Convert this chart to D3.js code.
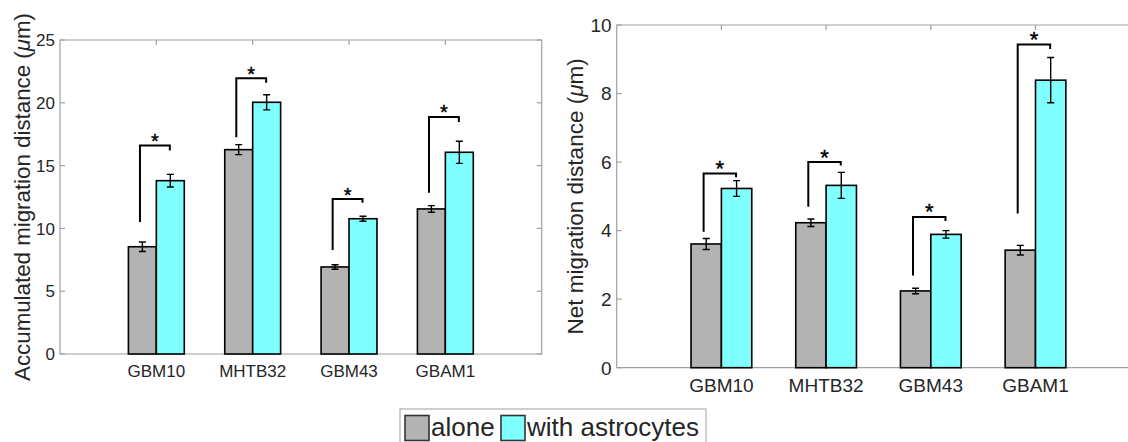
<!DOCTYPE html>
<html>
<head>
<meta charset="utf-8">
<script src="https://cdn.jsdelivr.net/npm/d3@7"></script>
<style>
  html, body { margin: 0; padding: 0; background: #fff; }
  svg { display: block; font-family: "Liberation Sans", Arial, sans-serif; }
</style>
</head>
<body>
<svg id="chart" width="1128" height="442"></svg>
<script>
// ── Data ──────────────────────────────────────────────────────────────────────
const categories = ['GBM10', 'MHTB32', 'GBM43', 'GBAM1'];
const seriesNames = ['alone', 'with astrocytes'];

// accumulated migration distance (µm)
const accAlone      = [8.54, 16.27, 6.93, 11.55];
const accAloneErr   = [0.38, 0.40, 0.18, 0.26];
const accAstro      = [13.80, 20.04, 10.77, 16.06];
const accAstroErr   = [0.50, 0.60, 0.20, 0.88];
const accBracket    = [[10.5, 16.6, 16.2], [17.25, 21.95, 21.6], [8.28, 12.34, 12.05], [12.84, 18.87, 18.47]];
const accTicks      = [0, 5, 10, 15, 20, 25];

// net migration distance (µm)
const netAlone      = [3.61, 4.23, 2.24, 3.43];
const netAloneErr   = [0.16, 0.11, 0.08, 0.14];
const netAstro      = [5.23, 5.32, 3.89, 8.39];
const netAstroErr   = [0.23, 0.38, 0.11, 0.66];
const netBracket    = [[3.97, 5.67, 5.56], [4.70, 6.0, 5.9], [2.69, 4.40, 4.28], [4.5, 9.43, 9.3]];
const netTicks      = [0, 2, 4, 6, 8, 10];

// ── Style ─────────────────────────────────────────────────────────────────────
const GRAY = '#b3b3b3';
const CYAN = '#80ffff';
const AXIS = '#a0a0a0';
const TEXT = '#262626';
const BAR_W = 0.29;

const svg = d3.select('#chart');

function drawPanel(opt) {
  const { left, right, top, bottom, yMax, ticks, alone, aloneErr, astro, astroErr, brackets,
          label, tickFont, labelFont, labelX, xLabelY } = opt;
  const x = d3.scaleLinear().domain([0, 5]).range([left, right]);
  const y = d3.scaleLinear().domain([0, yMax]).range([bottom, top]);
  const g = svg.append('g');

  // box
  g.append('path')
    .attr('d', `M${left},${bottom}V${top}H${right}V${bottom}Z`)
    .attr('fill', 'none').attr('stroke', AXIS).attr('stroke-width', 1.2);

  // inward ticks on all sides
  const tl = 5;
  ticks.forEach(t => {
    g.append('line').attr('x1', left).attr('x2', left + tl).attr('y1', y(t)).attr('y2', y(t))
      .attr('stroke', AXIS).attr('stroke-width', 1.2);
    g.append('line').attr('x1', right).attr('x2', right - tl).attr('y1', y(t)).attr('y2', y(t))
      .attr('stroke', AXIS).attr('stroke-width', 1.2);
    g.append('text').attr('x', left - 5).attr('y', y(t)).attr('dy', '0.36em')
      .attr('text-anchor', 'end').attr('fill', TEXT).attr('font-size', tickFont).text(t);
  });
  categories.forEach((c, i) => {
    const cx = x(i + 1);
    g.append('line').attr('x1', cx).attr('x2', cx).attr('y1', top).attr('y2', top + tl)
      .attr('stroke', AXIS).attr('stroke-width', 1.2);
    g.append('line').attr('x1', cx).attr('x2', cx).attr('y1', bottom).attr('y2', bottom - tl)
      .attr('stroke', AXIS).attr('stroke-width', 1.2);
    g.append('text').attr('x', cx).attr('y', xLabelY).attr('text-anchor', 'middle')
      .attr('fill', TEXT).attr('font-size', tickFont).text(c);
  });

  // bars
  const bars = [];
  categories.forEach((c, i) => {
    bars.push({ x0: i + 1 - BAR_W, v: alone[i], e: aloneErr[i], fill: GRAY });
    bars.push({ x0: i + 1, v: astro[i], e: astroErr[i], fill: CYAN });
  });
  g.selectAll('rect.bar').data(bars).join('rect').attr('class', 'bar')
    .attr('x', d => x(d.x0)).attr('width', d => x(d.x0 + BAR_W) - x(d.x0))
    .attr('y', d => y(d.v)).attr('height', d => y(0) - y(d.v))
    .attr('fill', d => d.fill).attr('stroke', '#000').attr('stroke-width', 1.6);

  // error bars
  const cap = 3.5;
  bars.forEach(d => {
    const cx = x(d.x0 + BAR_W / 2);
    const y1 = y(d.v - d.e), y2 = y(d.v + d.e);
    g.append('path')
      .attr('d', `M${cx},${y1}V${y2}M${cx - cap},${y1}H${cx + cap}M${cx - cap},${y2}H${cx + cap}`)
      .attr('fill', 'none').attr('stroke', '#000').attr('stroke-width', 1.4);
  });

  // significance brackets
  brackets.forEach((b, i) => {
    const xl = x(i + 1 - 0.17), xr = x(i + 1 + 0.14);
    g.append('path')
      .attr('d', `M${xl},${y(b[0])}V${y(b[1])}H${xr}V${y(b[2])}`)
      .attr('fill', 'none').attr('stroke', '#000').attr('stroke-width', 2);
    g.append('text').attr('x', (xl + xr) / 2).attr('y', y(b[1]) + 2.5)
      .attr('text-anchor', 'middle').attr('font-size', tickFont + 3).attr('fill', '#000')
      .attr('stroke', '#000').attr('stroke-width', 0.4).text('*');
  });

  // y label
  const lt = g.append('text')
    .attr('transform', `translate(${labelX},${(top + bottom) / 2}) rotate(-90)`)
    .attr('text-anchor', 'middle').attr('fill', TEXT).attr('font-size', labelFont);
  lt.append('tspan').text(label + ' (');
  lt.append('tspan').attr('font-style', 'italic').text('\u03bc');
  lt.append('tspan').text('m)');
}

drawPanel({
  left: 60, right: 541.7, top: 40, bottom: 354, yMax: 25, ticks: accTicks,
  alone: accAlone, aloneErr: accAloneErr, astro: accAstro, astroErr: accAstroErr,
  brackets: accBracket, label: 'Accumulated migration distance',
  tickFont: 17, labelFont: 22.3, labelX: 30, xLabelY: 377
});

drawPanel({
  left: 616.7, right: 1140.2, top: 25, bottom: 367.7, yMax: 10, ticks: netTicks,
  alone: netAlone, aloneErr: netAloneErr, astro: netAstro, astroErr: netAstroErr,
  brackets: netBracket, label: 'Net migration distance',
  tickFont: 19, labelFont: 22.5, labelX: 583, xLabelY: 391.5
});

// ── Legend ────────────────────────────────────────────────────────────────────
const lg = svg.append('g');
lg.append('rect').attr('x', 400).attr('y', 409).attr('width', 306).attr('height', 40)
  .attr('fill', '#fff').attr('stroke', AXIS).attr('stroke-width', 1);
const legendItems = [
  { name: seriesNames[0], fill: GRAY, sx: 405, tx: 431 },
  { name: seriesNames[1], fill: CYAN, sx: 501, tx: 527 },
];
legendItems.forEach(it => {
  lg.append('rect').attr('x', it.sx).attr('y', 415.5).attr('width', 24).attr('height', 25)
    .attr('fill', it.fill).attr('stroke', '#333').attr('stroke-width', 1.6);
  lg.append('text').attr('x', it.tx).attr('y', 436).attr('fill', TEXT)
    .attr('font-size', 26).text(it.name);
});
</script>
</body>
</html>
